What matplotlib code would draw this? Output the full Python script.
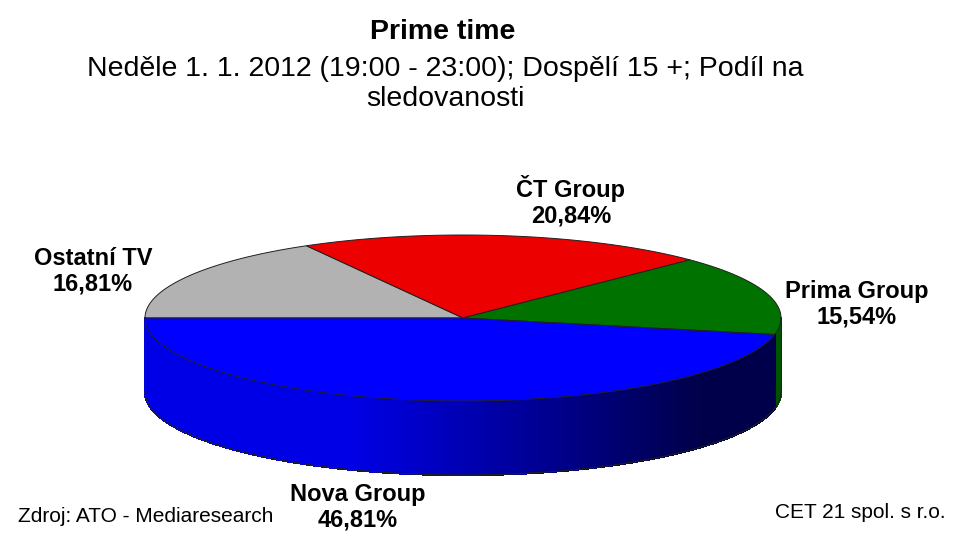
import numpy as np
from matplotlib import pyplot as plt
from matplotlib.collections import PolyCollection
from matplotlib.patches import Polygon

plt.rcParams['font.family'] = ['Liberation Sans', 'DejaVu Sans']

# data
labels = ["Ostatní TV", "ČT Group", "Prima Group", "Nova Group"]
values = [16.81, 20.84, 15.54, 46.81]
top_colors = ["#b2b2b2", "#ec0000", "#007200", "#0000ff"]
side_colors = ["#8a8a8a", "#a00000", "#005400", "#0000e6"]

title = "Prime time"
subtitle = "Neděle 1. 1. 2012 (19:00 - 23:00); Dospělí 15 +; Podíl na\nsledovanosti"
source = "Zdroj: ATO - Mediaresearch"
company = "CET 21 spol. s r.o."

# label positions (pixels)
label_pos = [(93, 271), (571, 201), (857, 304), (358, 507)]

# pie geometry in pixels (y goes down)
cx, cy = 463, 318
rx, ry = 318, 83
depth = 74

fig = plt.figure(figsize=(9.59, 5.43), dpi=100)
ax = fig.add_axes([0, 0, 1, 1])
ax.set_xlim(0, 959)
ax.set_ylim(543, 0)
ax.axis('off')


def pt(t):
    return cx + rx * np.cos(t), cy - ry * np.sin(t)


# angles: start at left (180 deg), go clockwise
fracs = np.array(values) / sum(values)
edges = np.pi - 2 * np.pi * np.concatenate([[0], np.cumsum(fracs)])


def side_shade(x, base):
    # darkens from left to right like the original
    k = np.clip((x - 350) / (700 - 350), 0, 1)
    f = 1.0 - 0.68 * k
    r, g, b = [int(base[i:i + 2], 16) / 255 for i in (1, 3, 5)]
    return (r * f, g * f, b * f)


# side of the cylinder (front half only)
quads, cols = [], []
for i in range(len(values)):
    a0, a1 = edges[i], edges[i + 1]
    ts = np.linspace(a0, a1, 200)
    for t1, t2 in zip(ts[:-1], ts[1:]):
        tm = 0.5 * (t1 + t2)
        if np.sin(tm) >= 0:
            continue
        x1, y1 = pt(t1)
        x2, y2 = pt(t2)
        quads.append([(x1, y1), (x2, y2), (x2, y2 + depth), (x1, y1 + depth)])
        if i == 2:
            cols.append((0, 0.33, 0))
        else:
            cols.append(side_shade(0.5 * (x1 + x2), side_colors[i]))
ax.add_collection(PolyCollection(quads, facecolors=cols, edgecolors=cols,
                                 linewidths=1.0, antialiased=False))

# outline of the side
tb = np.linspace(np.pi, 2 * np.pi, 300)
bx, by = pt(tb)
ax.plot(bx, by + depth, color="#202020", lw=0.8)
ax.plot([cx - rx, cx - rx], [cy, cy + depth], color="#202020", lw=0.8)
ax.plot([cx + rx, cx + rx], [cy, cy + depth], color="#202020", lw=0.6)

# top surface wedges
for i in range(len(values)):
    ts = np.linspace(edges[i], edges[i + 1], 200)
    xs, ys = pt(ts)
    verts = [(cx, cy)] + list(zip(xs, ys))
    ax.add_patch(Polygon(verts, closed=True, facecolor=top_colors[i],
                         edgecolor="#202020", lw=0.7))

# labels
for i, (x, y) in enumerate(label_pos):
    txt = labels[i] + "\n" + f"{values[i]:.2f}".replace(".", ",") + "%"
    ax.text(x, y, txt, ha="center", va="center", fontsize=17,
            fontweight="bold", linespacing=1.15)

# titles
ax.text(443, 32, title, ha="center", va="center", fontsize=20.5,
        fontweight="bold")
ax.text(445, 84, subtitle, ha="center", va="center", fontsize=20.5,
        linespacing=1.15)

# footer
ax.text(18, 517, source, ha="left", va="center", fontsize=15)
ax.text(946, 512, company, ha="right", va="center", fontsize=15)

fig.savefig("out.png", dpi=100)
